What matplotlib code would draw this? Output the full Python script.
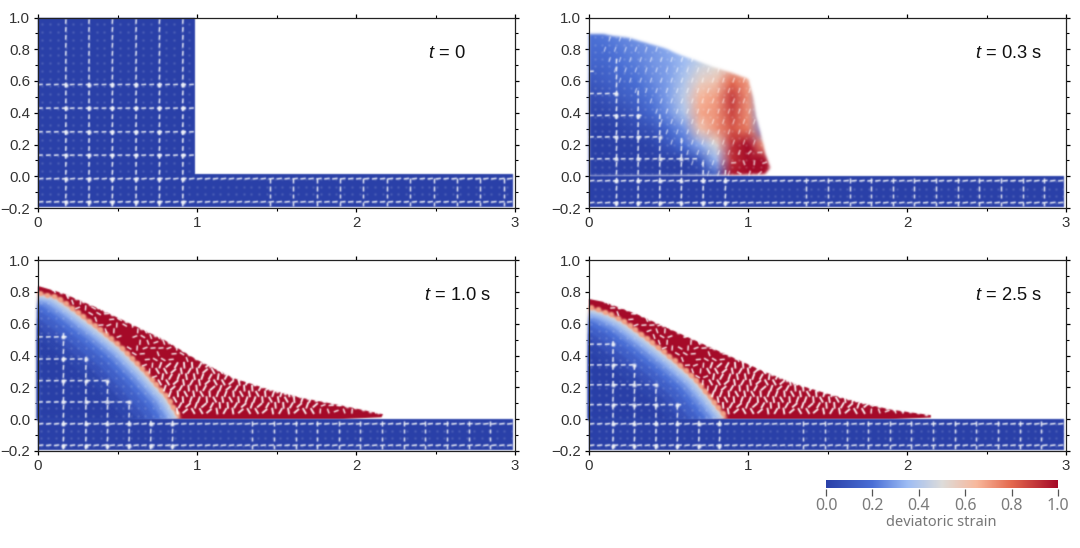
import numpy as np
import matplotlib
matplotlib.use("Agg")
import matplotlib.pyplot as plt
from matplotlib.collections import LineCollection
from matplotlib.colors import LinearSegmentedColormap
from matplotlib.patches import Polygon
from matplotlib.path import Path

plt.rcParams['font.family'] = ['Liberation Sans', 'DejaVu Sans']
plt.rcParams['mathtext.fontset'] = 'custom'
plt.rcParams['mathtext.it'] = 'Liberation Sans:italic'
plt.rcParams['mathtext.rm'] = 'Liberation Sans'

W, H = 1080, 548

strain_stops = [0.0, 0.2, 0.35, 0.5, 0.65, 0.8, 1.0]
strain_colors = ['#2a40a8', '#4a6fd6', '#9dbcf4', '#dddcda', '#f8b89c', '#e4694f', '#a50a28']

titles = ["0", "0.3 s", "1.0 s", "2.5 s"]

# outlines of the sliding mass
top_x = [[0, 0.985, 0.985, 0],
         [0, 0.08, 0.15, 0.25, 0.36, 0.47, 0.57, 0.68, 0.78, 0.9, 1.0, 1.03, 1.05, 1.08, 1.105, 1.14, 1.105, 0.885, 0],
         [0, 0.01, 0.16, 0.37, 0.58, 0.79, 1.0, 1.23, 1.46, 1.67, 1.92, 2.17, 2.16, 1.9, 0],
         [0, 0.1, 0.3, 0.5, 0.7, 0.9, 1.1, 1.3, 1.5, 1.7, 1.9, 2.15, 2.15, 1.9, 0]]
top_y = [[1.0, 1.0, 0, 0],
         [0.895, 0.895, 0.885, 0.87, 0.84, 0.805, 0.765, 0.725, 0.69, 0.65, 0.61, 0.5, 0.38, 0.26, 0.147, 0.05, 0.017, 0.005, 0],
         [0.834, 0.834, 0.79, 0.70, 0.60, 0.50, 0.373, 0.258, 0.184, 0.132, 0.084, 0.031, 0.012, 0, 0],
         [0.755, 0.735, 0.66, 0.57, 0.48, 0.39, 0.30, 0.22, 0.16, 0.105, 0.06, 0.025, 0.01, 0, 0]]
floor_top = [0.015, 0.004, 0.004, 0.004]

# failure curves below the red wedge (panels 3, 4)
fail_x = {2: [0, 0.1, 0.2, 0.37, 0.52, 0.66, 0.79, 0.88],
          3: [0, 0.1, 0.2, 0.35, 0.5, 0.65, 0.75, 0.85]}
fail_y = {2: [0.78, 0.76, 0.69, 0.56, 0.436, 0.29, 0.143, 0.0],
          3: [0.69, 0.66, 0.61, 0.5, 0.38, 0.25, 0.13, 0.0]}
band_shift = [0.018, 0.005, -0.005, -0.025, -0.045, -0.07, -0.1, -0.14, -0.18, -0.23]
band_strain = [0.72, 0.5, 0.4, 0.33, 0.26, 0.2, 0.14, 0.08, 0.03, 0.0]

# strain table for t = 0.3 s
table_x = [0, 0.1, 0.2, 0.3, 0.4, 0.5, 0.6, 0.7, 0.8, 0.9, 1.0, 1.1, 1.2]
table_y = [0, 0.1, 0.2, 0.3, 0.4, 0.5, 0.6, 0.7, 0.8, 0.9]
table_strain = [
    [0, 0, 0, 0, 0, 0, 0, 0, 0.1, 0.98, 1, 1, 1],
    [0, 0, 0, 0, 0, 0, 0, 0.1, 0.35, 0.92, 1, 1, 0.7],
    [0, 0, 0, 0, 0.02, 0.1, 0.2, 0.33, 0.5, 0.92, 1, 0.7, 0.3],
    [0, 0, 0.02, 0.05, 0.08, 0.18, 0.28, 0.6, 0.72, 0.84, 0.76, 0.28, 0.28],
    [0.02, 0.03, 0.05, 0.1, 0.18, 0.27, 0.4, 0.68, 0.72, 0.88, 0.72, 0.28, 0.28],
    [0.05, 0.08, 0.12, 0.16, 0.22, 0.3, 0.43, 0.65, 0.7, 0.9, 0.72, 0.3, 0.3],
    [0.1, 0.13, 0.16, 0.2, 0.25, 0.3, 0.4, 0.55, 0.6, 0.8, 0.7, 0.3, 0.3],
    [0.15, 0.16, 0.2, 0.23, 0.27, 0.3, 0.36, 0.45, 0.5, 0.55, 0.5, 0.3, 0.3],
    [0.18, 0.19, 0.22, 0.25, 0.28, 0.32, 0.36, 0.4, 0.4, 0.4, 0.4, 0.3, 0.3],
    [0.2, 0.22, 0.25, 0.28, 0.3, 0.33, 0.36, 0.4, 0.4, 0.4, 0.4, 0.3, 0.3],
]

# white cell lines: position and how far each one reaches
h_lines = [[0.577, 0.428, 0.279, 0.132], [0.66, 0.52, 0.382, 0.247, 0.109],
           [0.516, 0.377, 0.241, 0.107], [0.47, 0.34, 0.215, 0.09]]
h_reach = [[0.985, 0.985, 0.985, 0.985], [0.03, 0.17, 0.31, 0.45, 0.67],
           [0.16, 0.30, 0.44, 0.58], [0.14, 0.28, 0.41, 0.56]]
v_lines = [[0.174, 0.32, 0.467, 0.616, 0.763, 0.91], [0.172, 0.308, 0.444, 0.58, 0.717, 0.857],
           [0.159, 0.30, 0.436, 0.572, 0.708, 0.845], [0.15, 0.285, 0.42, 0.555, 0.69, 0.82]]
v_reach = [[0.99, 0.99, 0.99, 0.99, 0.99, 0.99], [0.72, 0.52, 0.38, 0.24, 0.11, 0.02],
           [0.56, 0.38, 0.25, 0.11, 0.0, 0.0], [0.48, 0.34, 0.21, 0.09, 0.0, 0.0]]
floor_lines = [[-0.017, -0.163], [-0.03, -0.168], [-0.031, -0.166], [-0.031, -0.166]]
floor_v_start = [1.459, 1.367, 1.348, 1.348]
floor_v_step = [0.147, 0.136, 0.136, 0.136]

# pixel box of each panel: left, right, top, bottom
boxes = [(38, 515, 17.5, 208), (589, 1066, 17.5, 208),
         (38, 515, 260, 451), (589, 1066, 260, 451)]
cbar_box = (826, 1058, 479.5, 488.5)
cbar_ticks = [0.0, 0.2, 0.4, 0.6, 0.8, 1.0]
gap_angles = [70, 20, 110, 45, 150, 85, 5]
gap_angles_mid = [80, 60, 100, 120, 70, 40, 95]

cmap = LinearSegmentedColormap.from_list('strain', list(zip(strain_stops, strain_colors)))


def box_axes(fig, box):
    left, right, top, bottom = box
    return fig.add_axes([left / W, 1 - bottom / H, (right - left) / W, (bottom - top) / H])


def soften(radius):
    # small numpy blur, the reference is a scaled-up screenshot
    def flt(img, dpi):
        pad = radius * 3
        out = np.pad(img, ((pad, pad), (pad, pad), (0, 0)))
        out[..., :3] *= out[..., 3:]
        kernel = np.exp(-np.arange(-pad, pad + 1) ** 2 / (2.0 * (radius * 0.7) ** 2))
        kernel = kernel / kernel.sum()
        for axis in (0, 1):
            out = np.apply_along_axis(lambda v: np.convolve(v, kernel, mode='same'), axis, out)
        out[..., :3] /= np.maximum(out[..., 3:], 1e-4)
        return np.clip(out, 0, 1), -pad, -pad
    return flt


def along_curve(xs, ys, spacing):
    # points at even spacing on a picture-read curve, for the bumpy particle edges
    d = np.concatenate([[0], np.cumsum(np.hypot(np.diff(xs), np.diff(ys)))])
    s = np.arange(0, d[-1], spacing)
    return np.interp(s, d, xs), np.interp(s, d, ys)


def draw_field(ax, i):
    outline = np.column_stack([top_x[i], top_y[i]])
    ft = floor_top[i]
    floor = Polygon([(0, -0.195), (2.985, -0.195), (2.985, ft), (0, ft)], fc=cmap(0.0), ec='none', zorder=4.5)
    floor.set_agg_filter(soften(1))
    ax.add_patch(floor)
    if i == 0:
        patch = Polygon(outline, fc=cmap(0.0), ec='none', zorder=3)
        patch.set_agg_filter(soften(1))
        ax.add_patch(patch)
    if i == 1:
        mesh = ax.pcolormesh(table_x, table_y, np.array(table_strain), cmap=cmap, vmin=0, vmax=1,
                             shading='gouraud', zorder=3)
        mesh.set_clip_path(Polygon(outline, transform=ax.transData))
        mesh.set_agg_filter(soften(2))
    if i >= 2:
        red = Polygon(outline, fc=cmap(1.0), ec='none', zorder=3)
        red.set_agg_filter(soften(1))
        ax.add_patch(red)
        fx = np.array(fail_x[i])
        fy = np.array(fail_y[i])
        for shift, s in zip(band_shift, band_strain):
            pts = [(0, fy[0] + shift * 0.7)] + list(zip(fx + shift, fy + shift * 0.7))
            pts = pts + [(fx[-1] + shift, 0), (0, 0)]
            band = Polygon(pts, fc=cmap(s), ec='none', zorder=4)
            band.set_agg_filter(soften(2))
            band.set_clip_path(Polygon(outline, transform=ax.transData))
            ax.add_patch(band)
        # blue again along the left wall, the blur lets the red through there
        wall, = ax.plot([0.004, 0.004], [0, fy[0] - 0.2], color=cmap(0.04), lw=2.0, zorder=4.2)
        wall.set_agg_filter(soften(1))
        # salmon particles sitting on the failure curve
        bx, by = along_curve(fx, fy, 0.045)
        beads = ax.scatter(bx + 0.012, by + 0.012, s=13, c=[cmap(0.68)], linewidths=0, zorder=5)
        beads.set_agg_filter(soften(1))


def draw_lattice(ax, i):
    white = '#f4f6fb'
    outline = Path(np.column_stack([top_x[i], top_y[i]]))
    step = (v_lines[i][1] - v_lines[i][0]) / 3.0
    # faint material points, lined up with the cell lines
    px, py = np.meshgrid(np.arange(v_lines[i][0] % step, 3.0, step),
                         np.arange(floor_lines[i][1], 1.0, step))
    px = px.ravel()
    py = py.ravel()
    keep = (py < floor_top[i]) | outline.contains_points(np.column_stack([px, py]))
    if i >= 2:
        keep &= (py < 0) | (py < np.interp(px, fail_x[i], fail_y[i]) - 0.03)
    dots = ax.scatter(px[keep], py[keep], s=1.2, c=white, linewidths=0, alpha=0.5, zorder=6)
    dots.set_agg_filter(soften(1))

    segs = []
    for y, reach in zip(h_lines[i], h_reach[i]):
        xs = np.arange(0.0, reach, 0.05)
        segs += [[(x, y), (x + 0.03, y + 0.002)] for x in xs]
    for y in floor_lines[i]:
        xs = np.arange(0.0, 2.98, 0.05)
        segs += [[(x, y), (x + 0.034, y + 0.004)] for x in xs]
    for x, reach in zip(v_lines[i], v_reach[i]):
        ys = np.arange(-0.19, reach, 0.05)
        segs += [[(x, y), (x + 0.002, y + 0.03)] for y in ys]
    for x in np.arange(floor_v_start[i], 2.98, floor_v_step[i]):
        ys = np.arange(-0.19, 0.0, 0.05)
        segs += [[(x, y), (x, y + 0.03)] for y in ys]
    lines = LineCollection(segs, colors=white, linewidths=1.05, zorder=6)
    lines.set_agg_filter(soften(1))
    ax.add_collection(lines)

    nodes = [(x, y) for y, reach in zip(h_lines[i], h_reach[i]) for x in v_lines[i] if x <= reach + 0.01]
    nodes += [(x, y) for y in floor_lines[i] for x in v_lines[i]]
    nodes = np.array(nodes)
    marks = ax.scatter(nodes[:, 0], nodes[:, 1], s=8, c=white, linewidths=0, zorder=7)
    marks.set_agg_filter(soften(1))


def draw_gaps(ax, i):
    # torn particles in the red wedge, and stretched ones at t = 0.3 s
    segs = []
    widths = []
    if i >= 2:
        for m, y in enumerate(np.arange(0.015, 0.85, 0.036)):
            for n, x in enumerate(np.arange(-0.4, 2.25, 0.05)):
                x0 = x + 0.5 * y
                if x0 < 0.1 or y < np.interp(x0, fail_x[i], fail_y[i], right=0.0) + 0.04:
                    continue
                mid = 0.75 < x0 < 1.75 and y < 0.34
                pick = (n * n + 3 * m * m + n * m) % 7
                if not mid and pick in (0, 3):
                    continue
                a = np.radians((gap_angles_mid if mid else gap_angles)[pick])
                r = 0.021 if mid else 0.016
                segs.append([(x0 - r * np.cos(a), y - r * np.sin(a)), (x0 + r * np.cos(a), y + r * np.sin(a))])
                widths.append(1.3 if mid else 1.0)
        # notches along the free surface
        sx, sy = along_curve(top_x[i][:12], top_y[i][:12], 0.05)
        ax_edge = ax.scatter(sx[2:], sy[2:] + 0.006, s=6, c='white', linewidths=0, zorder=8)
        ax_edge.set_agg_filter(soften(1))
    else:
        outline = Path(np.column_stack([top_x[i], top_y[i]]))
        for m, y in enumerate(np.arange(0.02, 0.9, 0.065)):
            for n, x in enumerate(np.arange(0.1, 1.15, 0.065)):
                x0 = x + 0.03 * (m % 2)
                inside = outline.contains_points([(x0, y)])[0]
                if not inside or y < 0.95 * (0.72 - x0) + 0.1 * (x0 < 0.4):
                    continue
                toe = y < 0.2 and x0 > 0.88
                a = np.radians(gap_angles[(3 * n + 5 * m) % 7] if toe else 72)
                r = 0.016
                segs.append([(x0 - r * np.cos(a), y - r * np.sin(a)), (x0 + r * np.cos(a), y + r * np.sin(a))])
                widths.append(1.2 if toe else 0.8)
    gaps = LineCollection(segs, colors='white', linewidths=widths, alpha=1.0 if i >= 2 else 0.7, zorder=8)
    gaps.set_agg_filter(soften(1))
    ax.add_collection(gaps)


def style_axes(ax, i):
    ax.set_xlim(0, 3)
    ax.set_ylim(-0.2, 1.0)
    ax.set_xticks([0, 1, 2, 3])
    ax.set_xticks([0.5, 1.5, 2.5], minor=True)
    ax.set_yticks([-0.2, 0.0, 0.2, 0.4, 0.6, 0.8, 1.0])
    ax.set_yticks(np.arange(-0.1, 1.0, 0.2), minor=True)
    ax.tick_params(which='major', direction='out', length=3.2, width=0.9, top=True, right=True,
                   labelsize=10.8, labelcolor='#333333', pad=2.5)
    ax.tick_params(which='minor', direction='out', length=2, width=0.8, top=True, right=True)
    ax.set_xticklabels(['0', '1', '2', '3'])
    for side in ax.spines.values():
        side.set_linewidth(0.9)
        side.set_color('#222222')
        side.set_zorder(10)
    ax.text(0.818 if i == 0 else 0.81, 0.812, r'$\it{t}$ = ' + titles[i], transform=ax.transAxes,
            fontsize=13.2, color='#111111', ha='left', va='center', zorder=12)


fig = plt.figure(figsize=(W / 100, H / 100), dpi=100)

for i in range(4):
    ax = box_axes(fig, boxes[i])
    draw_field(ax, i)
    draw_lattice(ax, i)
    if i > 0:
        draw_gaps(ax, i)
    style_axes(ax, i)

cax = box_axes(fig, cbar_box)
grad = np.linspace(0, 1, 256).reshape(1, -1)
cax.imshow(grad, extent=[0, 1, 0, 1], aspect='auto', cmap=cmap, vmin=0, vmax=1)
cax.set_yticks([])
cax.set_xticks(cbar_ticks)
cax.set_xticklabels(['%.1f' % v for v in cbar_ticks], family=['Noto Sans'], fontsize=11.5, color='#7b7b7b')
cax.tick_params(axis='x', direction='out', length=5, width=0.9, color='#555555', pad=2)
for side in cax.spines.values():
    side.set_visible(False)
fig.text(941 / W, 1 - 522.5 / H, 'deviatoric strain', family=['Noto Sans'], fontsize=10.5,
         color='#777777', ha='center', va='center')

fig.savefig('out.png', dpi=100)
